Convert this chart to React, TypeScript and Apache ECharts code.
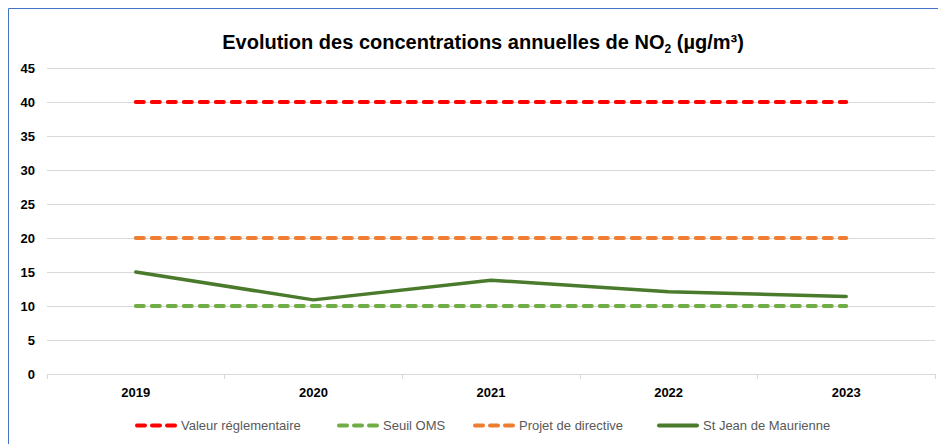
import React, { useEffect, useRef } from "react";
import * as echarts from "echarts";

const years = ["2019", "2020", "2021", "2022", "2023"];
const valeurReglementaire = [40, 40, 40, 40, 40];
const seuilOMS = [10, 10, 10, 10, 10];
const projetDirective = [20, 20, 20, 20, 20];
const stJean = [15, 10.9, 13.8, 12.1, 11.4];
const seriesNames = ["Valeur réglementaire", "Seuil OMS", "Projet de directive", "St Jean de Maurienne"];
const seriesColors = ["#FF0000", "#70AD47", "#ED7D31", "#4A7A2C"];
const legendLefts = [135, 337, 473, 657];

const FONT = "Liberation Sans";
const DASH_ICON = "path://M2,0h8a2,2 0 0 1 0,4h-8a2,2 0 0 1 0,-4z M17,0h8a2,2 0 0 1 0,4h-8a2,2 0 0 1 0,-4z M32,0h8a2,2 0 0 1 0,4h-8a2,2 0 0 1 0,-4z";
const SOLID_ICON = "path://M2,0h38a2,2 0 0 1 0,4h-38a2,2 0 0 1 0,-4z";

export default function App() {
  const ref = useRef<HTMLDivElement>(null);
  useEffect(() => {
    if (!ref.current) return;
    const chart = echarts.init(ref.current, null, { renderer: "svg" });
    const dataSets = [valeurReglementaire, seuilOMS, projetDirective, stJean];
    const series = dataSets.map((d, i) => ({
      name: seriesNames[i],
      type: "line",
      data: d,
      symbol: "none",
      z: i === 3 ? 5 : 3,
      lineStyle: {
        color: seriesColors[i],
        width: i === 3 ? 3.5 : 4,
        type: i === 3 ? "solid" : [8, 8],
        cap: "round",
      },
      itemStyle: { color: seriesColors[i] },
    }));
    const legends = seriesNames.map((n, i) => ({
      data: [{ name: n, icon: i === 3 ? SOLID_ICON : DASH_ICON }],
      left: legendLefts[i],
      top: 419,
      itemWidth: 42,
      itemHeight: 4,
      itemGap: 0,
      padding: 0,
      textStyle: { fontFamily: FONT, fontSize: 13, color: "#595959", padding: [0, 0, 0, -1] },
    }));
    chart.setOption({
      animation: false,
      backgroundColor: "#fff",
      title: {
        text: "{a|Evolution des concentrations annuelles de NO}{s|2}{a| (µg/m³)}",
        left: 478,
        top: 24,
        textAlign: "center",
        textStyle: {
          rich: {
            a: { fontFamily: FONT, fontSize: 20, fontWeight: "bold", color: "#000", lineHeight: 26, verticalAlign: "middle" },
            s: { fontFamily: FONT, fontSize: 12, fontWeight: "bold", color: "#000", lineHeight: 17, verticalAlign: "bottom" },
          },
        },
      },
      legend: legends,
      grid: { left: 47, right: 3, top: 68, bottom: 70, containLabel: false },
      xAxis: {
        type: "category",
        data: years,
        boundaryGap: true,
        axisLine: { lineStyle: { color: "#D9D9D9", width: 1 } },
        axisTick: { show: true, length: 5, lineStyle: { color: "#D9D9D9" } },
        axisLabel: { fontFamily: FONT, fontSize: 13, fontWeight: "bold", color: "#000", margin: 12 },
      },
      yAxis: {
        type: "value",
        min: 0,
        max: 45,
        interval: 5,
        axisLine: { show: false },
        axisTick: { show: false },
        splitLine: { lineStyle: { color: "#D9D9D9", width: 1 } },
        axisLabel: { fontFamily: FONT, fontSize: 13, fontWeight: "bold", color: "#000", margin: 12 },
      },
      graphic: [
        {
          type: "rect",
          shape: { x: 8.5, y: 8.5, width: 960, height: 460 },
          style: { fill: "none", stroke: "#4472C4", lineWidth: 1 },
          silent: true,
          z: 100,
        },
      ],
      series,
    });
    return () => chart.dispose();
  }, []);
  return <div ref={ref} style={{ position: "absolute", left: 0, top: 0, width: 938, height: 444 }} />;
}
